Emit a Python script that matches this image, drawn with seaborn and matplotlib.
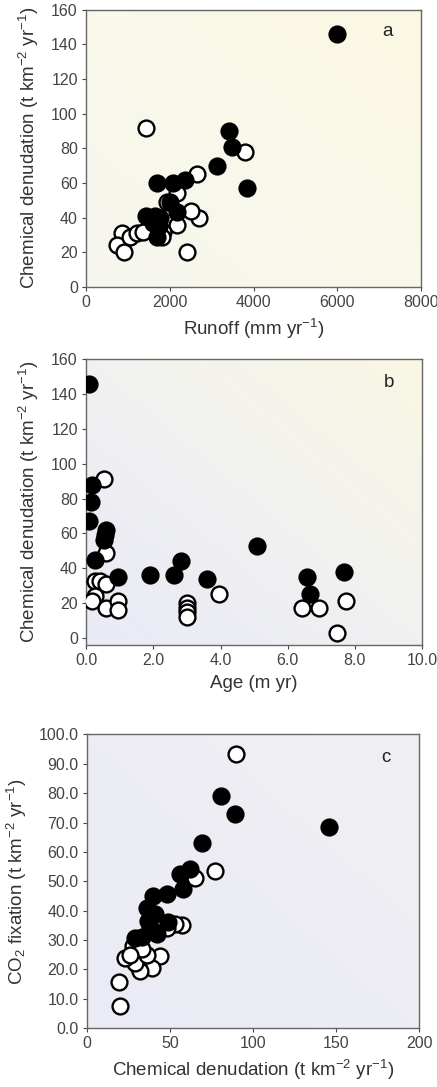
import numpy as np
import pandas as pd
import matplotlib
matplotlib.use('Agg')
import matplotlib.pyplot as plt
import seaborn as sns
from matplotlib.colors import LinearSegmentedColormap

# panel a: runoff vs chemical denudation
a_fill_x = [6000, 3420, 3480, 3120, 3840, 1690, 2070, 2370, 2010, 2160, 1440, 1650, 1730, 1700, 1760, 1600]
a_fill_y = [146, 90, 81, 70, 57, 60, 60, 62, 49, 43, 41, 41, 35, 29, 40, 37]
a_open_x = [1440, 3790, 2640, 2410, 2700, 2510, 2160, 2160, 1920, 850, 730, 900, 1050, 1220, 1370, 1840, 1800]
a_open_y = [92, 78, 65, 20, 40, 44, 36, 54, 49, 31, 24, 20, 29, 31, 32, 32, 29]

# panel b: age vs chemical denudation
b_fill_x = [0.10, 0.18, 0.15, 0.08, 0.60, 0.52, 0.55, 0.28, 0.96, 1.89, 2.62, 2.83, 3.60, 5.08, 6.57, 6.67, 7.67]
b_fill_y = [146, 88, 78, 67, 62, 56, 59, 45, 35, 36, 36, 44, 34, 53, 35, 25, 38]
b_open_x = [0.52, 0.60, 0.27, 0.42, 0.58, 0.27, 0.17, 0.60, 0.96, 0.96, 3.0, 3.0, 3.0, 3.0, 3.96, 6.42, 6.94, 7.72, 7.47]
b_open_y = [91, 49, 33, 33, 31, 24, 21, 17, 21, 16, 20, 17, 15, 12, 25, 17, 17, 21, 3]

# panel c: chemical denudation vs CO2 fixation
c_fill_x = [146, 81, 89, 69, 62, 56, 58, 48, 40, 41, 38, 42, 49, 29, 37, 36, 33]
c_fill_y = [68.5, 79, 73, 63, 54, 52.5, 47.5, 45.5, 45, 39, 34.5, 32, 36, 30.5, 36.5, 41, 31]
c_open_x = [90, 77, 65, 57, 53, 48, 44, 39, 31, 32, 29, 23, 36, 28, 19, 20, 33, 26]
c_open_y = [93.5, 53.5, 51, 35, 35.5, 34, 24.5, 20.5, 21, 19.5, 22, 24, 25, 28, 15.5, 7.5, 27, 25]

sns.set_style('white')
plt.rcParams['font.family'] = ['Liberation Sans', 'DejaVu Sans']
plt.rcParams['mathtext.fontset'] = 'custom'
plt.rcParams['mathtext.rm'] = 'Liberation Sans'
plt.rcParams['mathtext.it'] = 'Liberation Sans'

denud = 'Chemical denudation (t km$^{-2}$ yr$^{-1}$)'
panels = [
    dict(fx=a_fill_x, fy=a_fill_y, ox=a_open_x, oy=a_open_y,
         xlim=(0, 8000), ylim=(0, 160), xticks=[0, 2000, 4000, 6000, 8000],
         yticks=range(0, 161, 20), yfmt='{:.0f}', xfmt='{:.0f}',
         xlabel='Runoff (mm yr$^{-1}$)', ylabel=denud, letter='a',
         pos=[0.197, 0.736, 0.767, 0.255],
         bg=['#f6f6f0', '#f9f8ea', '#fbf8e2']),
    dict(fx=b_fill_x, fy=b_fill_y, ox=b_open_x, oy=b_open_y,
         xlim=(0, 10), ylim=(-4, 160), xticks=[0, 2, 4, 6, 8, 10],
         yticks=range(0, 161, 20), yfmt='{:.0f}', xfmt='{:.1f}',
         xlabel='Age (m yr)', ylabel=denud, letter='b',
         pos=[0.197, 0.4066, 0.769, 0.263],
         bg=['#e8eaf6', '#f1f1f1', '#faf7e3']),
    dict(fx=c_fill_x, fy=c_fill_y, ox=c_open_x, oy=c_open_y,
         xlim=(0, 200), ylim=(0, 100), xticks=[0, 50, 100, 150, 200],
         yticks=range(0, 101, 10), yfmt='{:.1f}', xfmt='{:.0f}',
         xlabel=denud, ylabel='CO$_2$ fixation (t km$^{-2}$ yr$^{-1}$)', letter='c',
         pos=[0.199, 0.0543, 0.760, 0.270],
         bg=['#eaebf5', '#ededf4', '#f0f0f3']),
]

fig = plt.figure(figsize=(4.37, 10.87), dpi=100)

for p in panels:
    ax = fig.add_axes(p['pos'])
    # soft background gradient
    cmap = LinearSegmentedColormap.from_list('bg', p['bg'])
    gx, gy = np.meshgrid(np.linspace(0, 1, 100), np.linspace(0, 1, 100))
    ax.imshow((gx + gy) / 2, cmap=cmap, extent=[0, 1, 0, 1], transform=ax.transAxes,
              aspect='auto', zorder=0, origin='lower')

    sns.scatterplot(x=p['ox'], y=p['oy'], ax=ax, color='white', edgecolor='black',
                    s=130, linewidth=1.7, zorder=3)
    sns.scatterplot(x=p['fx'], y=p['fy'], ax=ax, color='black', edgecolor='black',
                    s=130, linewidth=1.7, zorder=4)

    ax.set_xlim(p['xlim'])
    ax.set_ylim(p['ylim'])
    ax.set_xticks(p['xticks'])
    ax.set_xticklabels([p['xfmt'].format(v) for v in p['xticks']])
    ax.set_yticks(list(p['yticks']))
    ax.set_yticklabels([p['yfmt'].format(v) for v in p['yticks']])
    ax.tick_params(axis='both', labelsize=11.5, colors='#444444', length=3, width=0.8,
                   direction='out', pad=3, left=True, bottom=True)
    ax.set_xlabel(p['xlabel'], fontsize=13.5, color='#333333', labelpad=5)
    ax.set_ylabel(p['ylabel'], fontsize=13.5, color='#333333', labelpad=7)
    for s in ax.spines.values():
        s.set_color('#666666')
        s.set_linewidth(1.0)
    ax.text(0.90, 0.92, p['letter'], transform=ax.transAxes, fontsize=13.5,
            color='#222222', ha='center', va='center')

fig.savefig('out.png', dpi=100)
